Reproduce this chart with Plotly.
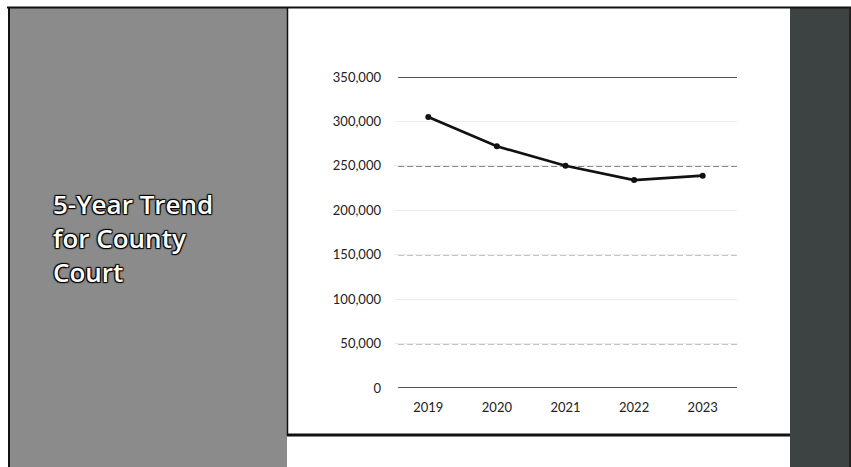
import plotly.graph_objects as go

# County court filings, 2019-2023
years = ["2019", "2020", "2021", "2022", "2023"]
filings = [305000, 272000, 250000, 234000, 239000]

y_ticks = [0, 50000, 100000, 150000, 200000, 250000, 300000, 350000]
y_tick_labels = ["0", "50,000", "100,000", "150,000", "200,000", "250,000", "300,000", "350,000"]
dark_grid_values = [0, 50000, 150000, 250000, 350000]

title_text = "5-Year Trend<br>for County<br>Court"

W, H = 851, 467


def px_x(p):
    return p / W


def px_y(p):
    return 1 - p / H


fig = go.Figure()

fig.add_trace(go.Scatter(
    x=years, y=filings,
    mode="lines+markers",
    line=dict(color="#111111", width=2.6),
    marker=dict(color="#111111", size=6, symbol="circle"),
    hoverinfo="x+y",
    showlegend=False,
))

shapes = []
# Page frame and panels
shapes.append(dict(type="rect", xref="paper", yref="paper", layer="below",
                   x0=px_x(10), x1=px_x(287), y0=px_y(467), y1=px_y(8),
                   fillcolor="#8b8b8b", line=dict(width=0)))
shapes.append(dict(type="rect", xref="paper", yref="paper", layer="below",
                   x0=px_x(790), x1=px_x(851), y0=px_y(467), y1=px_y(8),
                   fillcolor="#3d4343", line=dict(width=0)))
shapes.append(dict(type="line", xref="paper", yref="paper",
                   x0=px_x(7), x1=px_x(851), y0=px_y(7.5), y1=px_y(7.5),
                   line=dict(color="#111111", width=2)))
shapes.append(dict(type="line", xref="paper", yref="paper",
                   x0=px_x(9), x1=px_x(9), y0=px_y(7), y1=px_y(467),
                   line=dict(color="#111111", width=2)))
shapes.append(dict(type="line", xref="paper", yref="paper",
                   x0=px_x(287.5), x1=px_x(287.5), y0=px_y(7), y1=px_y(436),
                   line=dict(color="#111111", width=1.5)))
shapes.append(dict(type="line", xref="paper", yref="paper",
                   x0=px_x(287), x1=px_x(790), y0=px_y(435), y1=px_y(435),
                   line=dict(color="#111111", width=3)))
shapes.append(dict(type="line", xref="paper", yref="paper",
                   x0=px_x(850), x1=px_x(850), y0=px_y(7), y1=px_y(467),
                   line=dict(color="#1a1a1a", width=1.5)))

# Darker horizontal gridlines
for v in dark_grid_values:
    edge = v in (0, 350000)
    shapes.append(dict(type="line", xref="x domain", yref="y", layer="below",
                       x0=0.012, x1=1.0, y0=v, y1=v,
                       line=dict(color="#1a1a1a" if edge else "#111111",
                                 width=1.5 if edge else 1.3,
                                 dash="solid" if edge else "6px,3px")))

fig.update_layout(
    width=W, height=H,
    autosize=False,
    margin=dict(l=0, r=0, t=0, b=0, pad=0, autoexpand=False),
    paper_bgcolor="white",
    plot_bgcolor="rgba(0,0,0,0)",
    shapes=shapes,
    font=dict(family="Lato, Open Sans, sans-serif", color="#222222"),
    xaxis=dict(
        domain=[px_x(394), px_x(737)],
        type="category",
        range=[-0.5, 4.5],
        showgrid=False, zeroline=False, showline=False,
        ticks="", ticklabelstandoff=10, automargin=False,
        tickfont=dict(size=13, color="#222222"),
    ),
    yaxis=dict(
        domain=[px_y(388), px_y(77)],
        range=[0, 350000],
        tickvals=y_ticks, ticktext=y_tick_labels,
        showgrid=True, gridcolor="#ededed", gridwidth=1,
        zeroline=False, showline=False,
        ticks="", ticklabelstandoff=12, automargin=False,
        tickfont=dict(size=13, color="#222222"),
    ),
    annotations=[dict(
        text=title_text,
        xref="paper", yref="paper",
        x=px_x(51), y=px_y(184),
        xanchor="left", yanchor="top",
        align="left", showarrow=False,
        font=dict(family="Open Sans, Lato, sans-serif", size=26, color="white",
                  weight=600,
                  shadow="1px 1px 1px #000, -1px -1px 1px #000, 1px -1px 1px #000, -1px 1px 1px #000"),
    )],
)

fig.write_html("out.html")
